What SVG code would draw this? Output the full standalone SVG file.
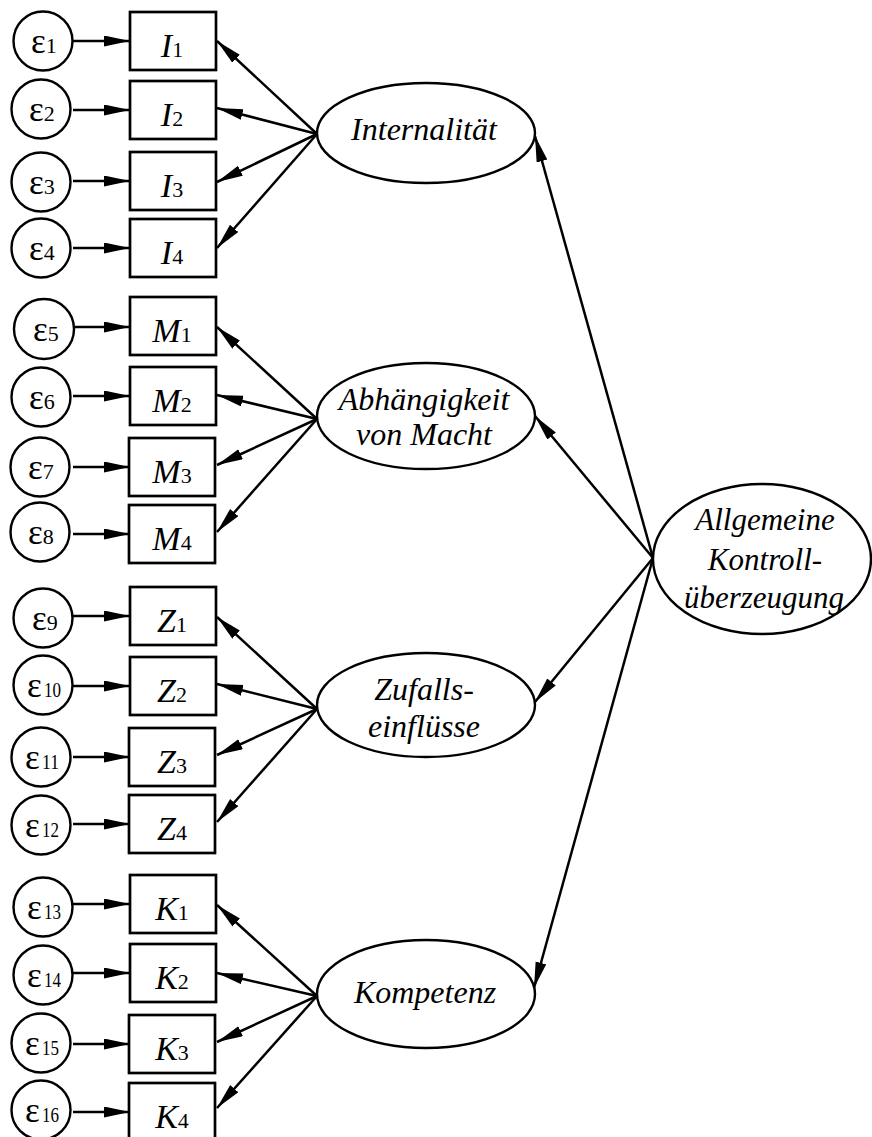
<svg xmlns="http://www.w3.org/2000/svg" width="872" height="1137" viewBox="0 0 872 1137">
<style>
text{font-family:"Liberation Serif","Times New Roman",serif;fill:#000}
.lat{font-size:32px;font-style:italic;text-anchor:middle}
.big{font-size:31px}
.lbl{font-size:34px;font-style:italic;text-anchor:middle}
.sub{font-size:22px;font-style:normal}
.eps{font-size:35px}
.es{font-size:22px}
.box{fill:#fff;stroke:#000;stroke-width:2.7}
.cir{fill:#fff;stroke:#000;stroke-width:2.4}
.ell{fill:#fff;stroke:#000;stroke-width:2.4}
.con line{stroke:#000;stroke-width:2.5;marker-end:url(#ah)}
</style>
<defs>
<marker id="ah" markerUnits="userSpaceOnUse" markerWidth="27" markerHeight="12" refX="26" refY="5.5" orient="auto">
<path d="M0,0 L26,5.5 L0,11 z" fill="#000"/>
</marker>
</defs>
<rect width="872" height="1137" fill="#fff"/>
<g id="connectors" class="con">
<line x1="73" y1="41" x2="130" y2="41"/>
<line x1="73" y1="110" x2="130" y2="110"/>
<line x1="73" y1="181" x2="130" y2="181"/>
<line x1="73" y1="248" x2="130" y2="248"/>
<line x1="73" y1="327" x2="130" y2="327"/>
<line x1="73" y1="396" x2="130" y2="396"/>
<line x1="73" y1="467" x2="130" y2="467"/>
<line x1="73" y1="534" x2="130" y2="534"/>
<line x1="73" y1="616" x2="130" y2="616"/>
<line x1="73" y1="686" x2="130" y2="686"/>
<line x1="73" y1="757" x2="130" y2="757"/>
<line x1="73" y1="824" x2="130" y2="824"/>
<line x1="73" y1="904" x2="130" y2="904"/>
<line x1="73" y1="973" x2="130" y2="973"/>
<line x1="73" y1="1044" x2="130" y2="1044"/>
<line x1="73" y1="1112" x2="130" y2="1112"/>
<line x1="317" y1="134" x2="217" y2="41"/>
<line x1="317" y1="134" x2="217" y2="108"/>
<line x1="317" y1="134" x2="217" y2="182"/>
<line x1="317" y1="134" x2="217" y2="248"/>
<line x1="317" y1="419" x2="217" y2="327"/>
<line x1="317" y1="419" x2="217" y2="395"/>
<line x1="317" y1="419" x2="217" y2="465"/>
<line x1="317" y1="419" x2="217" y2="532"/>
<line x1="317" y1="709" x2="217" y2="617"/>
<line x1="317" y1="709" x2="217" y2="684"/>
<line x1="317" y1="709" x2="217" y2="755"/>
<line x1="317" y1="709" x2="217" y2="822"/>
<line x1="317" y1="996" x2="217" y2="905"/>
<line x1="317" y1="996" x2="217" y2="973"/>
<line x1="317" y1="996" x2="217" y2="1042"/>
<line x1="317" y1="996" x2="217" y2="1108"/>
<line x1="653" y1="558" x2="535" y2="136"/>
<line x1="653" y1="558" x2="535" y2="416"/>
<line x1="653" y1="558" x2="535" y2="702"/>
<line x1="653" y1="558" x2="534" y2="988"/>
</g>
<g id="e1"><circle class="cir" cx="43" cy="41" r="29.5"/><text x="31" y="53"><tspan class="eps">ε</tspan><tspan class="es">1</tspan></text></g>
<g id="e2"><circle class="cir" cx="41" cy="109" r="29.5"/><text x="29" y="121"><tspan class="eps">ε</tspan><tspan class="es">2</tspan></text></g>
<g id="e3"><circle class="cir" cx="41" cy="182" r="29.5"/><text x="29" y="194"><tspan class="eps">ε</tspan><tspan class="es">3</tspan></text></g>
<g id="e4"><circle class="cir" cx="41" cy="248" r="29.5"/><text x="29" y="260"><tspan class="eps">ε</tspan><tspan class="es">4</tspan></text></g>
<g id="e5"><circle class="cir" cx="44" cy="329" r="30"/><text x="33" y="341"><tspan class="eps">ε</tspan><tspan class="es">5</tspan></text></g>
<g id="e6"><circle class="cir" cx="41" cy="397" r="29.5"/><text x="29" y="409"><tspan class="eps">ε</tspan><tspan class="es">6</tspan></text></g>
<g id="e7"><circle class="cir" cx="40" cy="467" r="29.5"/><text x="28" y="479"><tspan class="eps">ε</tspan><tspan class="es">7</tspan></text></g>
<g id="e8"><circle class="cir" cx="40" cy="532" r="29.5"/><text x="28" y="544"><tspan class="eps">ε</tspan><tspan class="es">8</tspan></text></g>
<g id="e9"><circle class="cir" cx="43" cy="618" r="29.5"/><text x="32" y="630"><tspan class="eps">ε</tspan><tspan class="es">9</tspan></text></g>
<g id="e10"><circle class="cir" cx="43" cy="685" r="29.5"/><text x="27" y="697" class="eps">ε</text><text x="44" y="697" class="es" textLength="17" lengthAdjust="spacingAndGlyphs">10</text></g>
<g id="e11"><circle class="cir" cx="41" cy="757" r="29.5"/><text x="25" y="769" class="eps">ε</text><text x="42" y="769" class="es" textLength="17" lengthAdjust="spacingAndGlyphs">11</text></g>
<g id="e12"><circle class="cir" cx="41" cy="825" r="29.5"/><text x="25" y="837" class="eps">ε</text><text x="42" y="837" class="es" textLength="17" lengthAdjust="spacingAndGlyphs">12</text></g>
<g id="e13"><circle class="cir" cx="43" cy="907" r="29.5"/><text x="27" y="919" class="eps">ε</text><text x="44" y="919" class="es" textLength="17" lengthAdjust="spacingAndGlyphs">13</text></g>
<g id="e14"><circle class="cir" cx="43" cy="975" r="29.5"/><text x="27" y="987" class="eps">ε</text><text x="44" y="987" class="es" textLength="17" lengthAdjust="spacingAndGlyphs">14</text></g>
<g id="e15"><circle class="cir" cx="41" cy="1043" r="29.5"/><text x="25" y="1055" class="eps">ε</text><text x="42" y="1055" class="es" textLength="17" lengthAdjust="spacingAndGlyphs">15</text></g>
<g id="e16"><circle class="cir" cx="41" cy="1110" r="29.5"/><text x="25" y="1122" class="eps">ε</text><text x="42" y="1122" class="es" textLength="17" lengthAdjust="spacingAndGlyphs">16</text></g>
<g id="I1"><rect class="box" x="130" y="12" width="86" height="58"/><text class="lbl" x="172" y="57">I<tspan class="sub">1</tspan></text></g>
<g id="I2"><rect class="box" x="130" y="81" width="86" height="58"/><text class="lbl" x="172" y="126">I<tspan class="sub">2</tspan></text></g>
<g id="I3"><rect class="box" x="130" y="152" width="86" height="58"/><text class="lbl" x="172" y="197">I<tspan class="sub">3</tspan></text></g>
<g id="I4"><rect class="box" x="130" y="219" width="86" height="58"/><text class="lbl" x="172" y="264">I<tspan class="sub">4</tspan></text></g>
<g id="M1"><rect class="box" x="130" y="297" width="86" height="58"/><text class="lbl" x="172" y="342">M<tspan class="sub">1</tspan></text></g>
<g id="M2"><rect class="box" x="130" y="367" width="86" height="58"/><text class="lbl" x="172" y="412">M<tspan class="sub">2</tspan></text></g>
<g id="M3"><rect class="box" x="129" y="438" width="86" height="58"/><text class="lbl" x="172" y="483">M<tspan class="sub">3</tspan></text></g>
<g id="M4"><rect class="box" x="129" y="505" width="86" height="58"/><text class="lbl" x="172" y="550">M<tspan class="sub">4</tspan></text></g>
<g id="Z1"><rect class="box" x="130" y="587" width="86" height="58"/><text class="lbl" x="172" y="632">Z<tspan class="sub">1</tspan></text></g>
<g id="Z2"><rect class="box" x="130" y="657" width="86" height="58"/><text class="lbl" x="172" y="702">Z<tspan class="sub">2</tspan></text></g>
<g id="Z3"><rect class="box" x="129" y="728" width="86" height="58"/><text class="lbl" x="172" y="773">Z<tspan class="sub">3</tspan></text></g>
<g id="Z4"><rect class="box" x="129" y="795" width="86" height="58"/><text class="lbl" x="172" y="840">Z<tspan class="sub">4</tspan></text></g>
<g id="K1"><rect class="box" x="130" y="875" width="86" height="58"/><text class="lbl" x="172" y="920">K<tspan class="sub">1</tspan></text></g>
<g id="K2"><rect class="box" x="130" y="944" width="86" height="58"/><text class="lbl" x="172" y="989">K<tspan class="sub">2</tspan></text></g>
<g id="K3"><rect class="box" x="129" y="1015" width="86" height="58"/><text class="lbl" x="172" y="1060">K<tspan class="sub">3</tspan></text></g>
<g id="K4"><rect class="box" x="129" y="1083" width="86" height="58"/><text class="lbl" x="172" y="1128">K<tspan class="sub">4</tspan></text></g>
<g id="internalitaet"><ellipse class="ell" cx="426" cy="133" rx="109" ry="50"/><text class="lat" x="424" y="140">Internalität</text></g>
<g id="abhaengigkeit"><ellipse class="ell" cx="426" cy="416" rx="109" ry="53"/><text class="lat" x="424" y="410">Abhängigkeit</text><text class="lat" x="424" y="445">von Macht</text></g>
<g id="zufall"><ellipse class="ell" cx="426" cy="705" rx="109" ry="52"/><text class="lat" x="424" y="700">Zufalls-</text><text class="lat" x="424" y="737">einflüsse</text></g>
<g id="kompetenz"><ellipse class="ell" cx="426" cy="994" rx="109" ry="54"/><text class="lat" x="425" y="1003">Kompetenz</text></g>
<g id="allgemein"><ellipse class="ell" cx="762" cy="559" rx="109" ry="75"/><text class="lat big" x="765" y="530">Allgemeine</text><text class="lat big" x="765" y="570">Kontroll-</text><text class="lat big" x="764" y="608">überzeugung</text></g>
</svg>
